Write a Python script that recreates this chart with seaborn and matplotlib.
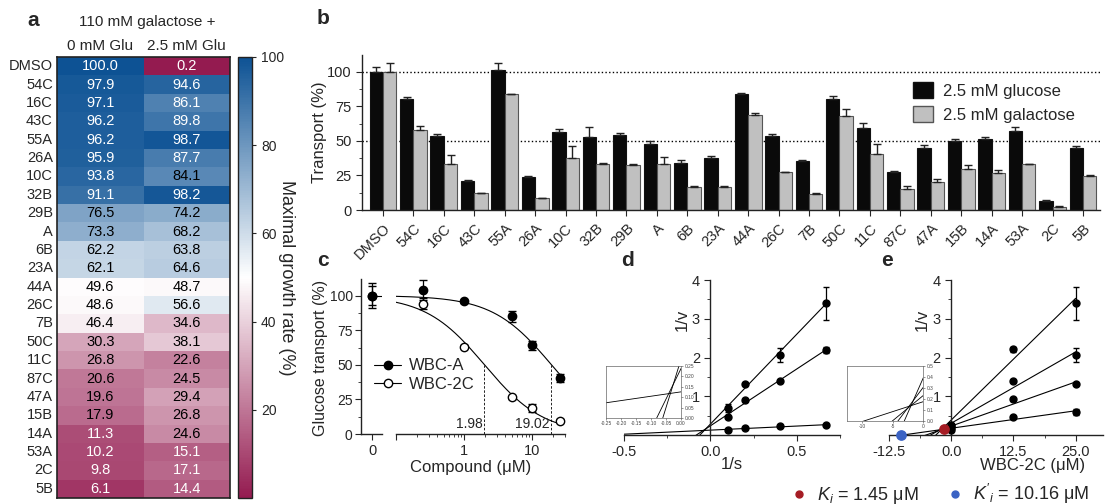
import numpy as np
import pandas as pd
import matplotlib
matplotlib.use("Agg")
import matplotlib.pyplot as plt
import seaborn as sns
from matplotlib.colors import LinearSegmentedColormap
from matplotlib.lines import Line2D
from matplotlib.patches import Patch
from matplotlib.ticker import MultipleLocator, FixedLocator, NullFormatter

# ---- a: maximal growth rate heatmap
compounds = ['DMSO', '54C', '16C', '43C', '55A', '26A', '10C', '32B', '29B', 'A', '6B', '23A',
             '44A', '26C', '7B', '50C', '11C', '87C', '47A', '15B', '14A', '53A', '2C', '5B']
growth_0glu = [100.0, 97.9, 97.1, 96.2, 96.2, 95.9, 93.8, 91.1, 76.5, 73.3, 62.2, 62.1,
               49.6, 48.6, 46.4, 30.3, 26.8, 20.6, 19.6, 17.9, 11.3, 10.2, 9.8, 6.1]
growth_25glu = [0.2, 94.6, 86.1, 89.8, 98.7, 87.7, 84.1, 98.2, 74.2, 68.2, 63.8, 64.6,
                48.7, 56.6, 34.6, 38.1, 22.6, 24.5, 29.4, 26.8, 24.6, 15.1, 17.1, 14.4]
heat_cols = ['0 mM Glu', '2.5 mM Glu']

# ---- b: transport screen
transport_glc = [100, 80, 53.4, 21, 101, 24, 56.5, 52.5, 54.3, 47.4, 33.7, 37.6,
                 84, 53.2, 35.4, 80.3, 59.5, 27.2, 45.1, 50.2, 51.2, 57.3, 6.6, 44.7]
transport_glc_err = [3.6, 1.9, 1.2, 0.5, 5.2, 0.7, 2.0, 7.5, 1.0, 2.2, 2.3, 1.7,
                     0.5, 1.4, 1.0, 2.0, 3.1, 0.7, 1.7, 1.3, 1.7, 2.4, 0.9, 1.2]
transport_gal = [100, 57.5, 33.5, 12, 84, 8.5, 37.4, 33, 32.5, 33.5, 16.3, 16.5,
                 69, 27.4, 11.9, 67.7, 40.5, 15.5, 20.1, 29.6, 26.7, 33.3, 2.4, 24.3]
transport_gal_err = [6.3, 3.2, 6.1, 0.5, 0.0, 0.4, 8.5, 1.2, 1.0, 5.0, 1.4, 1.2,
                     1.2, 0.3, 0.3, 5.3, 7.3, 2.0, 2.0, 2.7, 1.9, 0.0, 0.5, 0.7]
conditions = ['2.5 mM glucose', '2.5 mM galactose']

# ---- c: dose response
conc = [0.25, 1, 5, 10, 25]
wbca = [104, 96, 85, 64, 40.5]
wbca_err = [7, 1, 4, 3, 3]
wbc2c = [94, 63, 26.5, 19, 9.7]
wbc2c_err = [4, 1, 1, 3, 1]
zero_wbca, zero_wbca_err = 100, 9
zero_wbc2c, zero_wbc2c_err = 100, 7
ic50_a = 19.02
ic50_2c = 1.98

# ---- d: Lineweaver-Burk (1/s)
inv_s = [0.1, 0.2, 0.4, 0.667]
lb_i0 = [0.14, 0.17, 0.22, 0.26]
lb_i0_err = [0.02, 0.02, 0.02, 0.02]
lb_i12 = [0.47, 0.91, 1.39, 2.19]
lb_i12_err = [0.03, 0.03, 0.03, 0.08]
lb_i25 = [0.70, 1.31, 2.06, 3.40]
lb_i25_err = [0.10, 0.03, 0.18, 0.42]

# ---- e: Dixon plot (WBC-2C uM)
inhib = [0, 12.5, 25]
dx_s15 = [0.26, 2.21, 3.40]
dx_s15_err = [0.02, 0.07, 0.42]
dx_s25 = [0.22, 1.39, 2.06]
dx_s25_err = [0.02, 0.03, 0.18]
dx_s5 = [0.17, 0.92, 1.31]
dx_s5_err = [0.02, 0.03, 0.03]
dx_s10 = [0.14, 0.47, 0.59]
dx_s10_err = [0.02, 0.03, 0.07]
ki, ki_y = 1.45, 0.15
ki_prime = 10.16

sns.set_style("ticks")
plt.rcParams['font.family'] = ['Liberation Sans', 'DejaVu Sans']
plt.rcParams['mathtext.fontset'] = 'custom'
plt.rcParams['mathtext.rm'] = 'Liberation Sans'
plt.rcParams['mathtext.it'] = 'Liberation Sans:italic'
plt.rcParams['axes.linewidth'] = 1.0
plt.rcParams['axes.edgecolor'] = '#222222'

W, H = 1105, 504
fig = plt.figure(figsize=(W / 100, H / 100), dpi=100)


def box(x0, y0, x1, y1):
    # pixel box -> figure fraction
    return [x0 / W, 1 - y1 / H, (x1 - x0) / W, (y1 - y0) / H]


# ================= a
ax_a = fig.add_axes(box(57, 57, 230, 498))
ax_cb = fig.add_axes(box(238, 57, 252, 498))
heat = pd.DataFrame({heat_cols[0]: growth_0glu, heat_cols[1]: growth_25glu}, index=compounds)
cmap = LinearSegmentedColormap.from_list('growth', ['#941b50', '#ffffff', '#0d5294'])
sns.heatmap(heat, ax=ax_a, cbar_ax=ax_cb, cmap=cmap, vmin=0, vmax=100,
            annot=True, fmt='.1f', annot_kws={'size': 10.5})
for txt, v in zip(ax_a.texts, heat.values.flat):
    txt.set_color('white' if (v > 85 or v < 17.5) else 'black')
ax_a.xaxis.tick_top()
ax_a.set_xticklabels(heat_cols, fontsize=11)
ax_a.set_yticklabels(compounds, rotation=0, fontsize=10.5)
ax_a.tick_params(length=0, pad=3)
ax_a.set_xlabel('')
ax_a.set_ylabel('')
for s in ax_a.spines.values():
    s.set_visible(True)
    s.set_linewidth(1.2)
fig.text(147 / W, 1 - 22 / H, '110 mM galactose +', ha='center', va='center', fontsize=11)
cbar = ax_a.collections[0].colorbar
cbar.set_ticks([20, 40, 60, 80, 100])
cbar.ax.tick_params(labelsize=10, length=3, width=0.8)
cbar.outline.set_linewidth(1)
cbar.set_label('Maximal growth rate (%)', rotation=270, fontsize=13)
cbar.ax.yaxis.set_label_coords(4.05, 0.5)

# ================= b
ax_b = fig.add_axes(box(362, 55, 1100, 210))
bar_df = pd.DataFrame({
    'compound': compounds * 2,
    'condition': [conditions[0]] * len(compounds) + [conditions[1]] * len(compounds),
    'transport': transport_glc + transport_gal,
})
sns.barplot(data=bar_df, x='compound', y='transport', hue='condition', order=compounds,
            hue_order=conditions, palette=['#0a0a0a', '#c0c0c0'], width=0.88,
            edgecolor='#111111', linewidth=0.8, errorbar=None, legend=False, ax=ax_b)
errs = [transport_glc_err, transport_gal_err]
vals = [transport_glc, transport_gal]
for cont, v, e, ec in zip(ax_b.containers, vals, errs, ['#111111', '#555555']):
    xs = [p.get_x() + p.get_width() / 2 for p in cont]
    for p in cont:
        p.set_edgecolor(ec)
    ax_b.errorbar(xs, v, yerr=[np.zeros(len(e)), e], fmt='none', ecolor='#222222',
                  elinewidth=1, capsize=3, capthick=1, zorder=3)
ax_b.axhline(100, ls=':', color='k', lw=1, zorder=0.5)
ax_b.axhline(50, ls=':', color='k', lw=1, zorder=0.5)
ax_b.set_xlim(-0.69, 23.56)
ax_b.set_ylim(0, 112)
ax_b.set_yticks([0, 25, 50, 75, 100])
ax_b.yaxis.set_minor_locator(MultipleLocator(12.5))
ax_b.tick_params(axis='y', labelsize=10.5, length=4)
ax_b.tick_params(axis='y', which='minor', length=2)
ax_b.tick_params(axis='x', labelsize=10.5, length=4, pad=4)
plt.setp(ax_b.get_xticklabels(), rotation=45, ha='right', rotation_mode='anchor')
ax_b.set_xlabel('')
ax_b.set_ylabel('Transport (%)', fontsize=12)
ax_b.yaxis.set_label_coords(-0.047, 0.5)
sns.despine(ax=ax_b)
leg_handles = [Patch(facecolor='#0a0a0a', edgecolor='#111111'),
               Patch(facecolor='#c0c0c0', edgecolor='#555555')]
ax_b.legend(leg_handles, conditions, loc='upper left', bbox_to_anchor=(0.735, 0.88),
            frameon=False, fontsize=12, handlelength=1.2, handleheight=1.1,
            labelspacing=0.45, borderpad=0, handletextpad=0.6)

# ================= c
ax_c0 = fig.add_axes(box(361, 279, 382, 434))
ax_c1 = fig.add_axes(box(396, 279, 565, 434))
ax_c0.errorbar([0], [zero_wbc2c], yerr=[zero_wbc2c_err], fmt='o', mfc='white', mec='k',
               color='k', ms=6, capsize=3, elinewidth=0.9, mew=1)
ax_c0.errorbar([0], [zero_wbca], yerr=[zero_wbca_err], fmt='o', color='k', ms=6,
               capsize=3, elinewidth=0.9)
ax_c0.hlines(zero_wbca, 0, 0.9, color='k', lw=0.8)
ax_c0.set_xlim(-1, 0.9)
ax_c0.set_ylim(0, 112)
ax_c0.set_xticks([0])
ax_c0.set_yticks([0, 25, 50, 75, 100])
ax_c0.yaxis.set_minor_locator(MultipleLocator(12.5))
ax_c0.tick_params(axis='x', labelsize=10.5, length=4)
ax_c0.tick_params(axis='y', labelsize=10, length=4, pad=2)
ax_c0.tick_params(which='minor', length=2)
ax_c0.set_ylabel('Glucose transport (%)', fontsize=11.5)
ax_c0.yaxis.set_label_coords(-1.55, 0.49)
sns.despine(ax=ax_c0)

xs_fit = np.logspace(-1, np.log10(max(conc)), 200)
ax_c1.plot(xs_fit, 100 / (1 + xs_fit / ic50_a), color='k', lw=0.8)
ax_c1.plot(xs_fit, 100 / (1 + xs_fit / ic50_2c), color='k', lw=0.8)
ax_c1.errorbar(conc, wbc2c, yerr=wbc2c_err, fmt='o', mfc='white', mec='k', color='k',
               ms=6, capsize=3, elinewidth=0.9, mew=1, zorder=3)
ax_c1.errorbar(conc, wbca, yerr=wbca_err, fmt='o', color='k', ms=6, capsize=3,
               elinewidth=0.9, zorder=3)
for ic in [ic50_2c, ic50_a]:
    ax_c1.vlines(ic, 0, 50, color='k', lw=0.6, ls=(0, (3, 2)))
    ax_c1.text(ic * 0.93, 2, f'{ic:.2f}', ha='right', va='bottom', fontsize=10)
ax_c1.set_xscale('log')
ax_c1.set_xlim(0.1, 30)
ax_c1.set_ylim(0, 112)
ax_c1.xaxis.set_major_locator(FixedLocator([0.1, 1, 10]))
ax_c1.set_xticklabels(['', '1', '10'])
ax_c1.xaxis.set_minor_formatter(NullFormatter())
ax_c1.tick_params(axis='x', labelsize=10.5, length=4)
ax_c1.tick_params(axis='x', which='minor', length=2)
ax_c1.tick_params(axis='y', left=False, labelleft=False)
for s in ['left', 'top', 'right']:
    ax_c1.spines[s].set_visible(False)
ax_c1.set_xlabel('Compound (μM)', fontsize=12)
ax_c1.xaxis.set_label_coords(0.44, -0.17)
c_handles = [Line2D([], [], color='k', marker='o', ms=6, lw=0.8),
             Line2D([], [], color='k', marker='o', ms=6, mfc='white', lw=0.8)]
ax_c1.legend(c_handles, ['WBC-A', 'WBC-2C'], loc='center left',
             bbox_to_anchor=(366 / W, 1 - 375 / H), bbox_transform=fig.transFigure,
             frameon=False, fontsize=12, handlelength=1.6, handletextpad=0.5,
             labelspacing=0.2, borderpad=0)


# ================= d / e shared styling
def kinetic_axis(ax, xlim, xmajor, xminor, fmt):
    ax.set_xlim(*xlim)
    ax.set_ylim(0, 4)
    ax.spines['left'].set_position(('data', 0))
    ax.spines['bottom'].set_position(('data', 0))
    ax.spines['top'].set_visible(False)
    ax.spines['right'].set_visible(False)
    ax.xaxis.set_major_locator(FixedLocator(xmajor))
    ax.set_xticklabels([fmt.format(v) for v in xmajor])
    ax.xaxis.set_minor_locator(MultipleLocator(xminor))
    ax.yaxis.set_major_locator(FixedLocator([1, 2, 3, 4]))
    ax.yaxis.set_minor_locator(MultipleLocator(0.5))
    ax.tick_params(labelsize=10.5, length=4)
    ax.tick_params(which='minor', length=2)


def inset_axis(ax, xlim, ylim, xt, yt, fmt_x, fmt_y):
    ax.set_xlim(*xlim)
    ax.set_ylim(*ylim)
    ax.yaxis.tick_right()
    ax.set_xticks(xt)
    ax.set_xticklabels([fmt_x.format(v) for v in xt])
    ax.set_yticks(yt)
    ax.set_yticklabels([fmt_y.format(v) for v in yt])
    ax.tick_params(labelsize=3.5, length=1.5, width=0.4, pad=1, colors='#444444')
    for s in ax.spines.values():
        s.set_linewidth(0.5)
        s.set_color('#666666')
    ax.set_facecolor('white')


# ================= d
ax_d = fig.add_axes(box(624, 280, 840, 435))
ax_di = fig.add_axes(box(606, 366, 681, 418))
x_lb = np.linspace(-0.5, max(inv_s), 100)
for yv, ye in [(lb_i0, lb_i0_err), (lb_i12, lb_i12_err), (lb_i25, lb_i25_err)]:
    k = np.polyfit(inv_s, yv, 1)
    ax_d.plot(x_lb, np.polyval(k, x_lb), color='k', lw=0.8)
    ax_di.plot(x_lb, np.polyval(k, x_lb), color='k', lw=0.6)
    ax_d.errorbar(inv_s, yv, yerr=ye, fmt='o', color='k', ms=5, capsize=2.5,
                  elinewidth=0.9, zorder=3, clip_on=False)
kinetic_axis(ax_d, (-0.5, 0.75), [-0.5, 0, 0.5], 0.25, '{:.1f}')
ax_d.set_xlabel('1/s', fontsize=12)
ax_d.xaxis.set_label_coords(0.5, -0.14)
ax_d.set_ylabel('1/v', fontsize=12)
ax_d.yaxis.set_label_coords(0.305, 0.74)
inset_axis(ax_di, (-0.25, 0), (0, 0.25), [-0.25, -0.2, -0.15, -0.1, -0.05, 0],
           [0, 0.05, 0.1, 0.15, 0.2, 0.25], '{:.2f}', '{:.2f}')

# ================= e
ax_e = fig.add_axes(box(889, 280, 1103, 435))
ax_ei = fig.add_axes(box(847, 366, 923, 421))
x_dx = np.linspace(-12.5, max(inhib), 100)
for yv, ye in [(dx_s15, dx_s15_err), (dx_s25, dx_s25_err), (dx_s5, dx_s5_err),
               (dx_s10, dx_s10_err)]:
    k = np.polyfit(inhib, yv, 1)
    ax_e.plot(x_dx, np.polyval(k, x_dx), color='k', lw=0.8)
    ax_ei.plot(x_dx, np.polyval(k, x_dx), color='k', lw=0.6)
    ax_e.errorbar(inhib, yv, yerr=ye, fmt='o', color='k', ms=5, capsize=2.5,
                  elinewidth=0.9, zorder=3, clip_on=False)
ax_e.scatter([-ki], [ki_y], s=45, color='#a51c24', zorder=5, clip_on=False)
ax_e.scatter([-ki_prime], [0], s=45, color='#3b63c4', zorder=5, clip_on=False)
kinetic_axis(ax_e, (-12.5, 30.5), [-12.5, 0, 12.5, 25], 6.25, '{:.1f}')
ax_e.set_xlabel('WBC-2C (μM)', fontsize=12)
ax_e.xaxis.set_label_coords(0.67, -0.15)
ax_e.set_ylabel('1/v', fontsize=12)
ax_e.yaxis.set_label_coords(0.19, 0.74)
inset_axis(ax_ei, (-12.5, 0), (0, 0.5), [-10, -5, 0], [0, 0.1, 0.2, 0.3, 0.4, 0.5],
           '{:.0f}', '{:.1f}')

# Ki legend
k_handles = [Line2D([], [], ls='', marker='o', ms=5, color='#a51c24'),
             Line2D([], [], ls='', marker='o', ms=5, color='#3b63c4')]
fig.legend(k_handles, [rf'$K_i$ = {ki:.2f} μM', rf"$K'_i$ = {ki_prime:.2f} μM"],
           loc='lower right', bbox_to_anchor=(1.0, -0.036), ncol=2, frameon=False,
           fontsize=13, handletextpad=0.5, columnspacing=1.5, handlelength=1.0)

# panel letters
for letter, (px, py) in zip('abcde', [(33, 21), (323, 18), (323, 261), (627, 260), (887, 260)]):
    fig.text(px / W, 1 - py / H, letter, fontsize=15, fontweight='bold', ha='center', va='center')

fig.savefig('out.png', dpi=100)
